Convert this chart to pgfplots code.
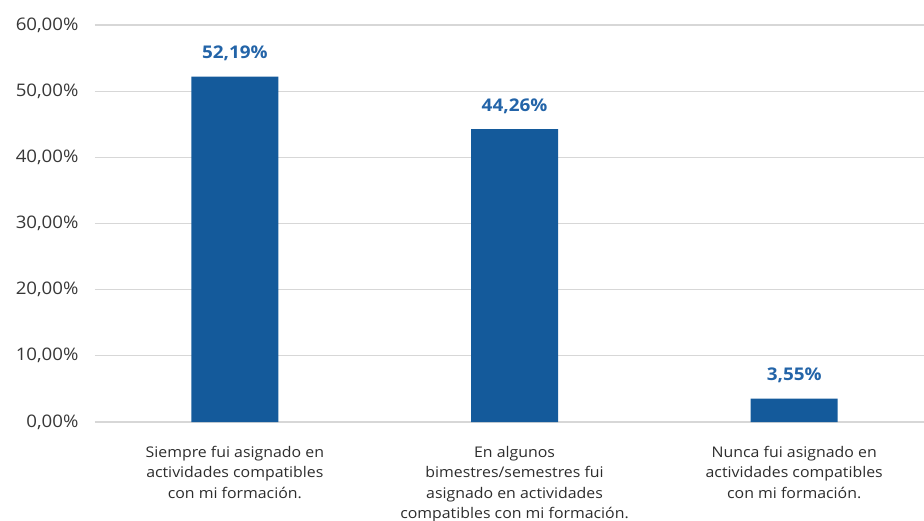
\documentclass[border=0pt]{standalone}
\usepackage{fontspec}
\setmainfont{Open Sans}[FakeStretch=1.08]
\usepackage{pgfplots}
\pgfplotsset{compat=1.18}
\definecolor{barblue}{RGB}{20,90,155}
\definecolor{labblue}{RGB}{35,100,168}
\definecolor{tickgray}{RGB}{55,55,55}
\definecolor{catgray}{RGB}{45,45,45}
\definecolor{gridgray}{RGB}{215,215,215}
\begin{document}
\begin{tikzpicture}
\path[use as bounding box] (-95bp,-99bp) rectangle (829bp,422bp);
\begin{axis}[
  at={(0,0)}, anchor=south west,
  scale only axis, width=829bp, height=397bp,
  xmin=-0.5, xmax=2.464, ymin=0, ymax=60,
  /pgf/number format/assume math mode=true,
  axis line style={draw=none},
  major tick length=0pt, tick style={draw=none},
  ymajorgrids, grid style={draw=gridgray, line width=1.2bp},
  ytick={0,10,20,30,40,50,60},
  yticklabels={{0,00\%},{10,00\%},{20,00\%},{30,00\%},{40,00\%},{50,00\%},{60,00\%}},
  yticklabel style={font=\fontsize{17.3bp}{20bp}\selectfont, text=tickgray, xshift=-13bp},
  xtick={0,1,2},
  xticklabels={{Siempre fui asignado en\\actividades compatibles\\con mi formación.},
               {En algunos\\bimestres/semestres fui\\asignado en actividades\\compatibles con mi formación.},
               {Nunca fui asignado en\\actividades compatibles\\con mi formación.}},
  xticklabel style={font=\fontsize{14.7bp}{20.2bp}\selectfont, text=catgray, align=center, yshift=-21bp},
  ybar, bar width=87bp,
  nodes near coords={\pgfmathprintnumber[fixed,fixed zerofill,precision=2,use comma]{\pgfplotspointmeta}\%},
  nodes near coords style={font=\bfseries\fontsize{17.5bp}{20bp}\selectfont, text=labblue, yshift=12bp},
]
\addplot[fill=barblue, draw=none] coordinates {(0,52.19) (1,44.26) (2,3.55)};
\end{axis}
\end{tikzpicture}
\end{document}
